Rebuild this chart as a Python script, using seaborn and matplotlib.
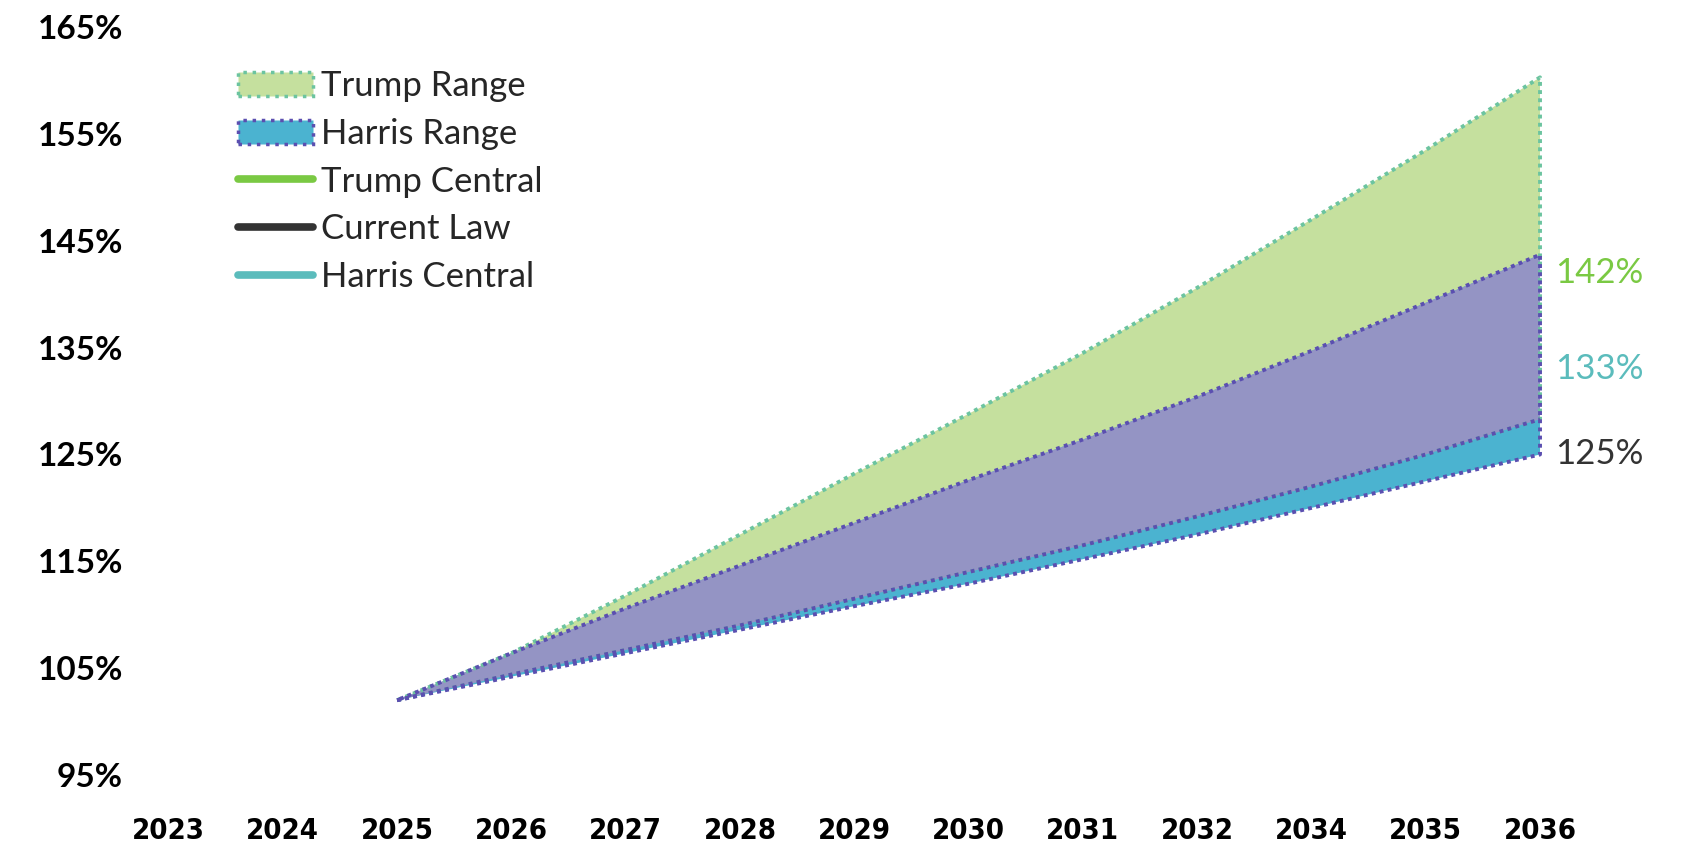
import numpy as np
import pandas as pd
import matplotlib
matplotlib.use("Agg")
import matplotlib.pyplot as plt
from matplotlib.patches import Patch
from matplotlib.lines import Line2D
import seaborn as sns

# ---------------- data ----------------
years = ["2023", "2024", "2025", "2026", "2027", "2028", "2029", "2030",
         "2031", "2032", "2034", "2035", "2036"]
# ranges start in 2025 (index 2); None before
trump_high = [None, None, 102.0, 106.4, 111.8, 117.5, 123.2, 128.8, 134.5, 140.6, 147.0, 153.5, 160.3]
trump_low = [None, None, 102.0, 104.4, 106.7, 109.0, 111.5, 114.0, 116.5, 119.2, 122.0, 125.0, 128.3]
harris_high = [None, None, 102.0, 106.4, 110.6, 114.6, 118.6, 122.6, 126.4, 130.4, 134.7, 139.2, 143.7]
harris_low = [None, None, 102.0, 104.2, 106.4, 108.6, 110.8, 112.9, 115.2, 117.5, 120.0, 122.5, 125.0]

end_labels = ["142%", "133%", "125%"]
end_values = [142, 133, 125]
end_colors = ["#7ac943", "#5bbcbc", "#333333"]

yticks = [95, 105, 115, 125, 135, 145, 155, 165]
legend_names = ["Trump Range", "Harris Range", "Trump Central", "Current Law", "Harris Central"]

# ---------------- styling ----------------
sns.set_theme(style="white")
plt.rcParams["font.family"] = ["Lato", "DejaVu Sans"]

C_TR_FILL = "#c5e09e"
C_TR_EDGE = "#6cc4a0"
C_HR_FILL = "#4bb3d0"
C_HR_EDGE = "#5b4fb0"
C_OVER = "#9494c4"
DOT = (0, (1, 1.1))
LW = 2.8

fig = plt.figure(figsize=(16.83, 8.48), dpi=100)
ax = fig.add_axes([0.0763, 0.0861, 0.949 - 0.0763, 0.968 - 0.0861])

df = pd.DataFrame({
    "x": np.arange(len(years)),
    "trump_high": pd.to_numeric(pd.Series(trump_high), errors="coerce"),
    "trump_low": pd.to_numeric(pd.Series(trump_low), errors="coerce"),
    "harris_high": pd.to_numeric(pd.Series(harris_high), errors="coerce"),
    "harris_low": pd.to_numeric(pd.Series(harris_low), errors="coerce"),
})
d = df.dropna()
x = d["x"].values
th, tl = d["trump_high"].values, d["trump_low"].values
hh, hl = d["harris_high"].values, d["harris_low"].values

# fills
ax.fill_between(x, tl, th, facecolor=C_TR_FILL, edgecolor="none", zorder=1)
ax.fill_between(x, hl, hh, facecolor=C_HR_FILL, edgecolor="none", zorder=2)
ax.fill_between(x, np.maximum(tl, hl), np.minimum(th, hh), facecolor=C_OVER,
                edgecolor="none", zorder=3)

# dotted outlines
ax.fill_between(x, tl, th, facecolor="none", edgecolor=C_TR_EDGE, linestyle=DOT,
                linewidth=LW, zorder=4)
ax.fill_between(x, hl, hh, facecolor="none", edgecolor=C_HR_EDGE, linestyle=DOT,
                linewidth=LW, zorder=5)
sns.lineplot(x=x, y=tl, ax=ax, color=C_HR_EDGE, linestyle=DOT, linewidth=LW, zorder=6)

# end labels
for lab, val, col in zip(end_labels, end_values, end_colors):
    ax.annotate(lab, xy=(x[-1], val), xytext=(11, 0), textcoords="offset points",
                ha="left", va="center", color=col, fontsize=25)

# axes
ax.set_xlim(-0.35, len(years) - 0.5)
ax.set_ylim(yticks[0], yticks[-1])
ax.set_xticks(np.arange(len(years)))
ax.set_xticklabels(years)
ax.set_yticks(yticks)
ax.set_yticklabels([f"{v}%" for v in yticks])
for lbl in ax.get_xticklabels():
    lbl.set_fontsize(21)
    lbl.set_fontweight("bold")
    lbl.set_fontfamily(["DejaVu Sans"])
    lbl.set_fontstretch("condensed")
for lbl in ax.get_yticklabels():
    lbl.set_fontsize(24)
    lbl.set_fontweight("bold")
ax.tick_params(axis="x", length=0, pad=30, colors="black")
ax.tick_params(axis="y", length=0, pad=4, colors="black")
for s in ax.spines.values():
    s.set_visible(False)
ax.grid(False)
ax.set_xlabel("")
ax.set_ylabel("")

handles = [
    Patch(facecolor=C_TR_FILL, edgecolor=C_TR_EDGE, linestyle=":", linewidth=2.5),
    Patch(facecolor=C_HR_FILL, edgecolor=C_HR_EDGE, linestyle=":", linewidth=2.5),
    Line2D([], [], color="#7ac943", linewidth=5.5),
    Line2D([], [], color="#333333", linewidth=5.5),
    Line2D([], [], color="#5bbcbc", linewidth=5.5),
]
fig.legend(handles, legend_names, loc="upper left", bbox_to_anchor=(0.1414, 0.917),
           frameon=False, fontsize=25, handlelength=2.15, handleheight=0.7,
           handletextpad=0.25, labelspacing=0.45, borderpad=0, borderaxespad=0)

fig.savefig("out.png", dpi=100)
